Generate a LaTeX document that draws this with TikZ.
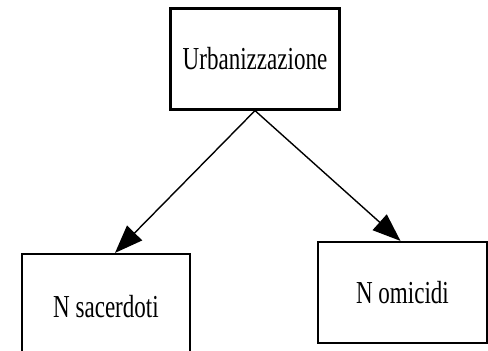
\documentclass[tikz,border=0pt]{standalone}
\usepackage{fontspec}
\newfontfamily\boxfont[FakeStretch=0.72]{Liberation Serif}
\usetikzlibrary{arrows.meta, positioning}
\tikzset{
  vbox/.style={draw=black, line width=2.2pt, align=center, fill=white,
    minimum width=169pt, minimum height=101pt, inner sep=4pt,
    font=\boxfont\fontsize{32}{36}\selectfont},
  link/.style={-{Triangle[length=28pt, width=21pt]}, line width=1.4pt, draw=black},
}
\begin{document}
\begin{tikzpicture}[x=1pt, y=-1pt]
    \useasboundingbox (0,0) rectangle (488,351);
    \node[vbox] (u) at (255,59) {Urbanizzazione};
    \node[vbox, minimum width=168pt, minimum height=106pt] (s) at (106,307) {N sacerdoti};
    \node[vbox] (o) at (402.5,292.5) {N omicidi};
    \draw[link] (u.south) -- ([xshift=9pt]s.north);
    \draw[link] (u.south) -- ([xshift=-2pt]o.north);
\end{tikzpicture}
\end{document}
